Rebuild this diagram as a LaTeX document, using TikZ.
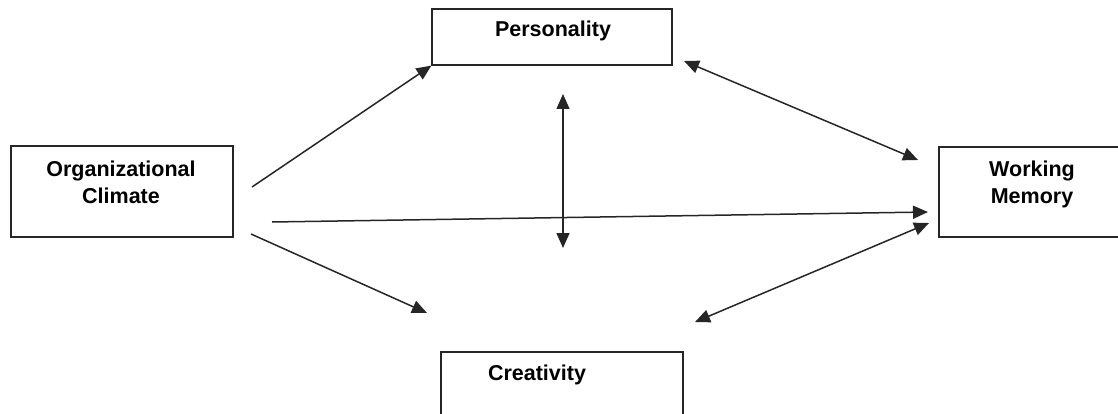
\documentclass[tikz,border=0pt]{standalone}
\usepackage{fontspec}
\setmainfont{Liberation Sans}
\usetikzlibrary{arrows.meta}
\begin{document}
\begin{tikzpicture}[x=1pt,y=-1pt,
  box/.style={draw=black!85, line width=1.2pt, rectangle, inner sep=0pt},
  lbl/.style={font=\fontsize{21.5}{27}\selectfont\bfseries, align=center, inner sep=0pt, anchor=base},
  conn/.style={draw=black!85, line width=1.5pt},
  tip/.tip={Triangle[length=15pt,width=13pt]}]
\clip (0,0) rectangle (1118,414);
\useasboundingbox (0,0) rectangle (1118,414);
% boxes
\node[box, minimum width=240pt, minimum height=56pt] (pers) at (552,37) {};
\node[box, minimum width=222pt, minimum height=91pt] (org) at (122,191.5) {};
\node[box, minimum width=181pt, minimum height=90pt] (wm) at (1029.5,192) {};
\node[box, minimum width=242pt, minimum height=78pt] (cre) at (562,391) {};
% labels
\node[lbl] (perst) at (553,37) {Personality};
\node[lbl] (orgt) at (121,204) {Organizational\\Climate};
\node[lbl] (wmt) at (1032,204) {Working\\Memory};
\node[lbl] (cret) at (537,380) {Creativity};
% connector end points
\coordinate (a1s) at (252,187);
\coordinate (a2s) at (272,222);
\coordinate (a2e) at (928,212);
\coordinate (a3s) at (251,234);
\coordinate (a3e) at (427,313);
\coordinate (vt) at (563,94);
\coordinate (vb) at (563,248);
\coordinate (d1s) at (684,61);
\coordinate (d1e) at (918,160);
\coordinate (d2s) at (695,322);
\coordinate (d2e) at (929,223);
% connectors
\draw[conn, -{tip}] (a1s) -- (pers.south west);
\draw[conn, -{tip}] (a2s) -- (a2e);
\draw[conn, -{tip}] (a3s) -- (a3e);
\draw[conn, {tip}-{tip}] (vt) -- (vb);
\draw[conn, {tip}-{tip}] (d1s) -- (d1e);
\draw[conn, {tip}-{tip}] (d2s) -- (d2e);
\end{tikzpicture}
\end{document}
